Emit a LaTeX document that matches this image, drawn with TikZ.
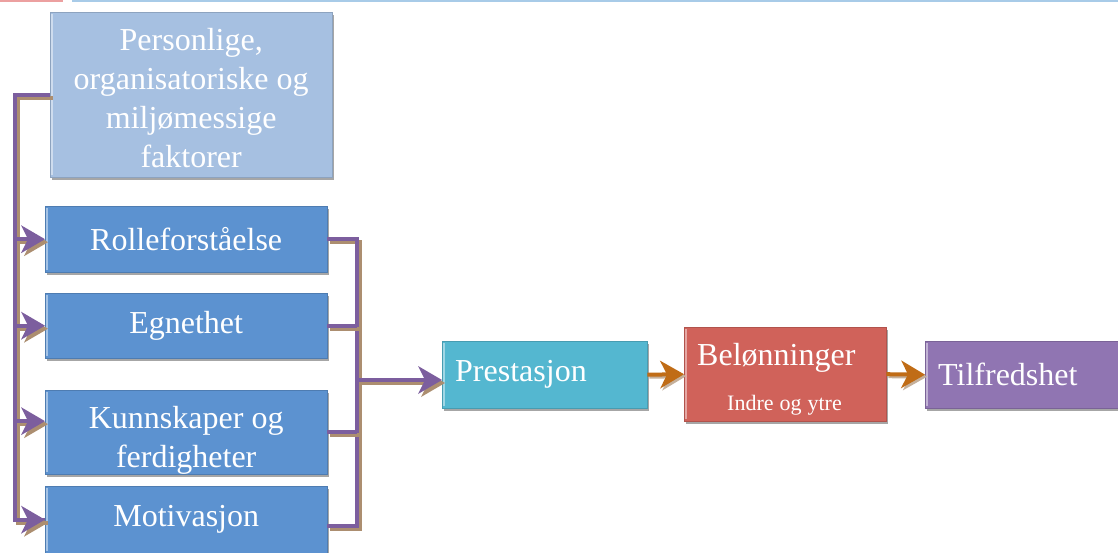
\documentclass[tikz,border=0pt]{standalone}
\usepackage{fontspec}
\setmainfont{Liberation Serif}
\usetikzlibrary{arrows.meta,shadows,calc}
\definecolor{cLight}{RGB}{166,192,225}
\definecolor{cBlue}{RGB}{92,146,208}
\definecolor{cCyan}{RGB}{84,183,208}
\definecolor{cRed}{RGB}{208,98,90}
\definecolor{cPurple}{RGB}{144,117,178}
\definecolor{cLink}{RGB}{124,94,158}
\definecolor{cLinkSh}{RGB}{172,142,112}
\definecolor{cOrange}{RGB}{192,108,22}
\definecolor{cTopRed}{RGB}{236,160,160}
\definecolor{cTopBlue}{RGB}{168,203,232}
\tikzset{
  box/.style={anchor=north west, inner sep=0pt, text=white, align=center,
    font={\fontsize{32}{39}\selectfont},
    drop shadow={shadow xshift=2pt, shadow yshift=-3pt, opacity=.35, fill=black},
    path picture={\draw[white, opacity=.45, line width=2pt]
      ($(path picture bounding box.north west)+(2pt,-2pt)$) --
      ($(path picture bounding box.south west)+(2pt,2pt)$);}},
  link/.style={line width=4pt, draw=cLink,
    preaction={draw=cLinkSh, line width=4pt, transform canvas={xshift=3pt,yshift=-3pt}}},
  olink/.style={line width=4pt, draw=cOrange,
    preaction={draw=cLinkSh!70, line width=4pt, transform canvas={xshift=2pt,yshift=-2pt}}},
  arrowtip/.style={-{Stealth[length=24pt,width=28pt,inset=7pt,line width=0pt]}},
}
\begin{document}
\begin{tikzpicture}[x=1pt,y=1pt]
\useasboundingbox (0,0) rectangle (1118,-553);
\fill[white] (0,0) rectangle (1118,-553);
\fill[cTopRed] (0,0) rectangle (63,-2);
\fill[cTopBlue] (72,0) rectangle (1118,-2);

\node[box, fill=cLight, draw=cLight!85!black, minimum width=282pt, minimum height=165pt] (P) at (50,-12)
  {\rule{0pt}{28pt}Personlige,\\organisatoriske og\\miljømessige\\faktorer};
\node[box, fill=cBlue, draw=cBlue!85!black, minimum width=282pt, minimum height=66pt] (R) at (45,-206) {Rolleforståelse};
\node[box, fill=cBlue, draw=cBlue!85!black, minimum width=282pt, minimum height=65pt] (E) at (45,-293) {Egnethet};
\node[box, fill=cBlue, draw=cBlue!85!black, minimum width=282pt, minimum height=82pt] (K) at (45,-390) {\rule{0pt}{38pt}Kunnskaper og\\ferdigheter};
\node[box, fill=cBlue, draw=cBlue!85!black, minimum width=282pt, minimum height=67pt] (M) at (45,-486) {Motivasjon};

\node[box, fill=cCyan, draw=cCyan!85!black, minimum width=205pt, minimum height=67pt,
  text width=179pt, align=left] (Pr) at (442,-341) {Prestasjon};
\node[box, fill=cRed, draw=cRed!85!black, minimum width=202pt, minimum height=94pt,
  text width=176pt, align=left, font={\fontsize{32}{45}\selectfont}] (B) at (684,-327)
  {\rule{0pt}{32pt}Belønninger\\\hspace*{30pt}\makebox[0pt][l]{\fontsize{22}{26}\selectfont\spaceskip=6pt Indre og ytre}};
\node[box, fill=cPurple, draw=cPurple!85!black, minimum width=195pt, minimum height=67pt,
  text width=169pt, align=left] (T) at (925,-341) {Tilfredshet};

\coordinate (Lx) at (15,0);
\coordinate (Rx) at (357,0);
\coordinate (J) at (357,-380);

% left distributor
\draw[link] (P.west) -- (P.west -| Lx) -- (Lx |- M.west) -- (M.west);
\draw[link,arrowtip] (Lx |- M.west) -- (M.west);
\draw[link,arrowtip] (Lx |- R.west) -- (R.west);
\draw[link,arrowtip] (Lx |- E.west) -- (E.west);
\draw[link,arrowtip] ($(Lx |- K.west)+(0,11)$) -- ($(K.west)+(0,11)$);

% right collector
\draw[link] (R.east) -- (R.east -| Rx) -- ($(Rx |- M.east)+(0,-6)$) -- ($(M.east)+(0,-6)$);
\draw[link] (E.east) -- (E.east -| Rx);
\draw[link] (K.east) -- (K.east -| Rx);
\draw[link,arrowtip] (J) -- (J -| Pr.west);

% chain
\draw[olink,arrowtip] (Pr.east) -- (B.west);
\draw[olink,arrowtip] (B.east) -- (T.west);
\end{tikzpicture}
\end{document}
